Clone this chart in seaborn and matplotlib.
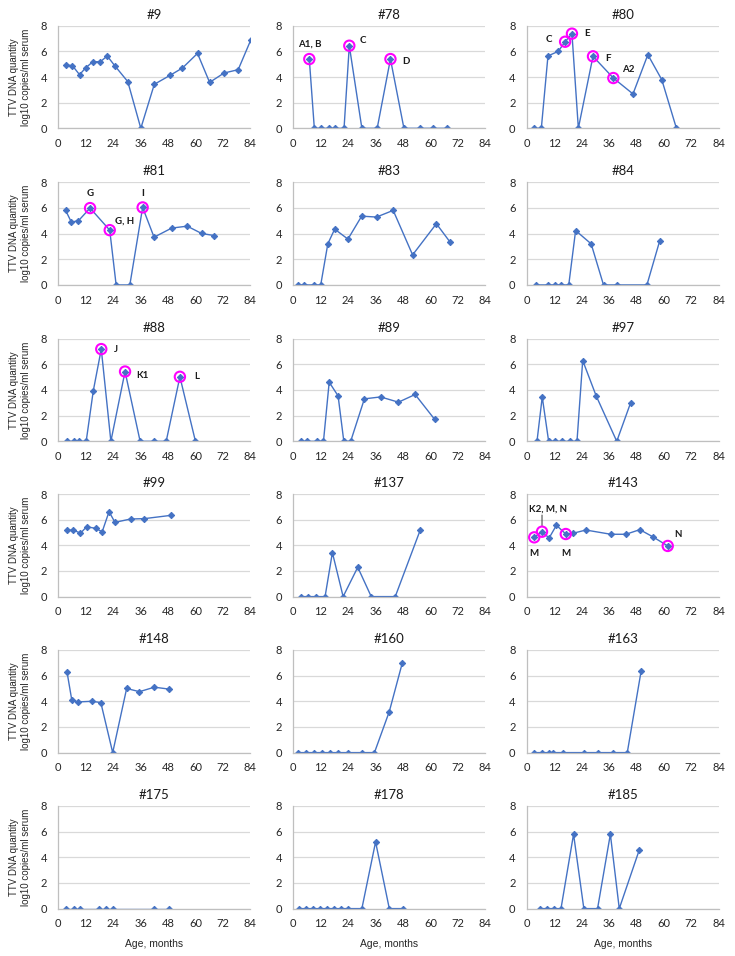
import matplotlib
matplotlib.use('Agg')
import matplotlib.pyplot as plt
import seaborn as sns

sns.set_style('white')
plt.rcParams['font.family'] = ['Lato', 'DejaVu Sans']

# months of age / log10 TTV DNA per patient
m9 = [3.2, 6.2, 9.3, 11.9, 15.1, 18.4, 21.4, 24.7, 30.4, 36.1, 42.0, 48.9, 54.3, 60.9, 66.2, 72.5, 78.7, 84.2]
v9 = [4.94, 4.88, 4.18, 4.70, 5.19, 5.19, 5.64, 4.88, 3.64, 0, 3.43, 4.13, 4.70, 5.84, 3.58, 4.31, 4.57, 6.88]
m78 = [7.0, 9.2, 12.3, 15.6, 18.3, 22.2, 24.5, 30.0, 36.7, 42.5, 48.4, 55.4, 61.2, 67.3]
v78 = [5.40, 0, 0, 0, 0, 0, 6.44, 0, 0, 5.40, 0, 0, 0, 0]
m80 = [3.3, 6.4, 9.3, 13.8, 16.8, 19.8, 22.6, 29.0, 37.9, 46.5, 53.0, 59.1, 65.5]
v80 = [0, 0, 5.64, 6.0, 6.75, 7.38, 0, 5.61, 3.92, 2.68, 5.74, 3.79, 0]
m81 = [3.2, 5.7, 8.8, 13.9, 22.5, 25.3, 31.3, 36.9, 41.9, 49.6, 56.4, 62.7, 68.1]
v81 = [5.81, 4.90, 5.00, 5.99, 4.27, 0, 0, 6.04, 3.72, 4.43, 4.58, 4.01, 3.85]
m83 = [2.2, 4.6, 9.0, 12.0, 15.1, 18.1, 23.9, 29.9, 36.4, 43.7, 52.2, 62.6, 68.5]
v83 = [0, 0, 0, 0, 3.20, 4.35, 3.57, 5.36, 5.29, 5.81, 2.34, 4.77, 3.36]
m84 = [4.2, 9.3, 12.2, 15.2, 18.4, 21.4, 28.2, 33.6, 39.7, 52.6, 58.2]
v84 = [0, 0, 0, 0, 0, 4.24, 3.20, 0, 0, 0, 3.44]
m88 = [3.8, 6.7, 9.0, 12.2, 15.3, 18.8, 23.0, 29.2, 35.8, 41.7, 47.2, 53.2, 60.0]
v88 = [0, 0, 0, 0, 3.93, 7.19, 0, 5.44, 0, 0, 0, 5.03, 0]
m89 = [3.3, 6.2, 10.3, 13.2, 15.7, 19.6, 22.1, 25.1, 31.1, 38.2, 46.0, 53.3, 61.8]
v89 = [0, 0, 0, 0, 4.61, 3.54, 0, 0, 3.31, 3.46, 3.05, 3.65, 1.72]
m97 = [4.5, 6.8, 9.6, 12.2, 15.5, 18.8, 22.0, 24.5, 30.4, 39.4, 45.5]
v97 = [0, 3.46, 0, 0, 0, 0, 0, 6.30, 3.54, 0, 3.02]
m99 = [3.8, 6.6, 9.7, 12.4, 16.3, 19.2, 22.2, 24.8, 31.6, 37.7, 49.5]
v99 = [5.17, 5.19, 4.94, 5.45, 5.32, 5.06, 6.62, 5.79, 6.05, 6.08, 6.34]
m137 = [3.3, 6.5, 9.9, 13.9, 17.1, 21.8, 28.2, 34.1, 44.6, 55.6]
v137 = [0, 0, 0, 0, 3.43, 0, 2.29, 0, 0, 5.22]
m143 = [3.3, 6.7, 9.8, 13.0, 17.1, 20.3, 25.9, 36.8, 43.4, 49.5, 55.3, 61.7]
v143 = [4.62, 5.06, 4.57, 5.56, 4.88, 4.94, 5.19, 4.86, 4.86, 5.22, 4.65, 3.95]
m148 = [3.8, 5.9, 8.6, 14.7, 18.6, 23.8, 29.9, 35.5, 42.0, 48.5]
v148 = [6.3, 4.1, 3.95, 4.0, 3.9, 0, 5.0, 4.75, 5.1, 4.95]
m160 = [2.0, 5.5, 9.0, 12.5, 15.9, 19.4, 23.8, 29.9, 35.5, 42.0, 47.7]
v160 = [0, 0, 0, 0, 0, 0, 0, 0, 0, 3.2, 7.0]
m163 = [3.2, 6.6, 9.7, 11.4, 15.8, 24.9, 31.0, 37.9, 44.0, 50.1]
v163 = [0, 0, 0, 0, 0, 0, 0, 0, 0, 6.4]
m175 = [3.4, 6.8, 9.4, 17.7, 20.7, 23.8, 42.0, 48.5]
v175 = [0, 0, 0, 0, 0, 0, 0, 0]
m178 = [2.5, 5.5, 8.5, 11.6, 14.6, 17.7, 20.7, 24.0, 30.0, 36.0, 42.0, 48.0]
v178 = [0, 0, 0, 0, 0, 0, 0, 0, 0, 5.2, 0, 0]
m185 = [6.0, 9.0, 12.0, 15.0, 20.5, 25.0, 31.0, 36.6, 40.5, 49.3]
v185 = [0, 0, 0, 0, 5.8, 0, 0, 5.8, 0, 4.6]

titles = ['#9', '#78', '#80', '#81', '#83', '#84', '#88', '#89', '#97',
          '#99', '#137', '#143', '#148', '#160', '#163', '#175', '#178', '#185']
series = [(m9, v9), (m78, v78), (m80, v80), (m81, v81), (m83, v83), (m84, v84),
          (m88, v88), (m89, v89), (m97, v97), (m99, v99), (m137, v137), (m143, v143),
          (m148, v148), (m160, v160), (m163, v163), (m175, v175), (m178, v178), (m185, v185)]

# circled isolates: panel -> point indices and their clone labels
circled = {
    '#78': [0, 6, 9], '#80': [4, 5, 7, 8], '#81': [3, 4, 7],
    '#88': [5, 7, 11], '#143': [0, 1, 4, 11],
}
clone_labels = {
    '#78': [(0, 'A1, B'), (6, 'C'), (9, 'D')],
    '#80': [(4, 'C'), (5, 'E'), (7, 'F'), (8, 'A2')],
    '#81': [(3, 'G'), (4, 'G, H'), (7, 'I')],
    '#88': [(5, 'J'), (7, 'K1'), (11, 'L')],
    '#143': [(1, 'K2, M, N'), (0, 'M'), (4, 'M'), (11, 'N')],
}
# label offsets in points
label_offsets = {
    '#78': [(0, 10.5), (10, 3.6), (11, -1.7)],
    '#80': [(-12, 1.7), (11, 0), (11, -1.2), (10.5, 6.2)],
    '#81': [(0, 10.5), (10.5, 6.7), (0, 10)],
    '#88': [(10.5, 0), (12.5, -2.6), (12, 0)],
    '#143': [(4.6, 16.6), (0, -11.3), (0, -13.7), (7.4, 7.9)],
}

blue = '#4472C4'
W, H = 735, 956
fig = plt.figure(figsize=(W / 100, H / 100), dpi=100)
lefts = [58.3, 293.3, 526.7]
tops = [25.7, 182.3, 338.7, 494.0, 650.0, 806.0]
aw, ah = 192, 102.6

for i, (title, (mm, vv)) in enumerate(zip(titles, series)):
    r, c = divmod(i, 3)
    ax = fig.add_axes([lefts[c] / W, 1 - (tops[r] + ah) / H, aw / W, ah / H])
    sns.lineplot(x=mm, y=vv, ax=ax, color=blue, linewidth=1.0, marker='D',
                 markersize=3.2, markeredgecolor=blue, sort=False, estimator=None)
    if title in circled:
        idx = circled[title]
        sns.scatterplot(x=[mm[k] for k in idx], y=[vv[k] for k in idx], ax=ax,
                        marker='o', s=55, facecolor='none', edgecolor='#FF00FF',
                        linewidth=1.5, zorder=5)
        for (k, txt), (dx, dy) in zip(clone_labels[title], label_offsets[title]):
            ax.annotate(txt, (mm[k], vv[k]), xytext=(dx, dy), textcoords='offset points',
                        ha='center', va='center', fontsize=7, fontweight='bold',
                        color='#1a1a1a')
        if title == '#143':
            ax.annotate('', (mm[1], vv[1]), xytext=(0, 12), textcoords='offset points',
                        arrowprops=dict(arrowstyle='-', color='#333333', lw=0.7,
                                        shrinkA=0, shrinkB=4))
    ax.set_xlim(0, 84)
    ax.set_ylim(0, 8)
    ax.set_xticks(range(0, 85, 12))
    ax.set_yticks(range(0, 9, 2))
    ax.yaxis.grid(True, color='#D9D9D9', linewidth=0.9)
    ax.set_axisbelow(True)
    for s in ['top', 'right']:
        ax.spines[s].set_visible(False)
    for s in ['left', 'bottom']:
        ax.spines[s].set_color('#BFBFBF')
        ax.spines[s].set_linewidth(0.9)
    ax.tick_params(axis='both', length=0, labelsize=8, colors='#262626')
    ax.tick_params(axis='y', pad=8)
    ax.tick_params(axis='x', pad=7)
    ax.set_title(title, fontsize=9.5, pad=5, color='#1a1a1a')
    ax.set_xlabel('')
    ax.set_ylabel('')
    if c == 0:
        ax.set_ylabel('TTV DNA quantity\nlog10 copies/ml serum', fontsize=7,
                      family=['Liberation Sans', 'DejaVu Sans'], labelpad=7,
                      linespacing=1.25, color='#262626')
    if r == 5:
        ax.set_xlabel('Age, months', fontsize=7.5, labelpad=7, color='#262626',
                      family=['Liberation Sans', 'DejaVu Sans'])

fig.savefig('out.png', dpi=100)
